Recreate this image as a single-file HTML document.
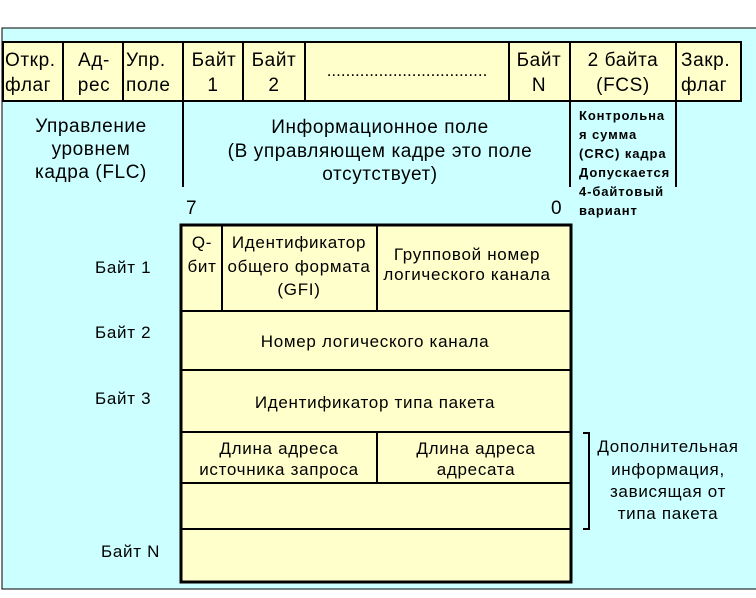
<!DOCTYPE html>
<html><head><meta charset="utf-8"><style>
html,body{margin:0;padding:0;background:#fff;}
svg text{font-family:"Liberation Sans",Arial,sans-serif;fill:#000;}
</style></head><body>
<svg width="756" height="593" viewBox="0 0 756 593" xmlns="http://www.w3.org/2000/svg">
<rect x="2" y="28" width="760" height="561" fill="#ccffff" stroke="#000" stroke-width="1"/>
<rect x="3" y="42" width="738" height="59" fill="#ffffcc" stroke="#000" stroke-width="2"/>
<g stroke="#000" stroke-width="2">
<line x1="63" y1="42" x2="63" y2="101"/><line x1="123" y1="42" x2="123" y2="101"/>
<line x1="183" y1="42" x2="183" y2="101"/><line x1="243" y1="42" x2="243" y2="101"/>
<line x1="305" y1="42" x2="305" y2="101"/><line x1="509" y1="42" x2="509" y2="101"/>
<line x1="570" y1="42" x2="570" y2="101"/><line x1="676" y1="42" x2="676" y2="101"/>
<line x1="183" y1="101" x2="183" y2="187"/><line x1="570" y1="101" x2="570" y2="187"/>
<line x1="676" y1="101" x2="676" y2="187"/>
</g>
<g font-size="19" letter-spacing="0.6">
<text x="5" y="66">Откр.</text><text x="5" y="91">флаг</text>
<text x="94" y="66" text-anchor="middle">Ад-</text><text x="94" y="91" text-anchor="middle">рес</text>
<text x="126" y="66">Упр.</text><text x="126" y="91">поле</text>
<text x="214" y="66" text-anchor="middle">Байт</text><text x="213" y="91" text-anchor="middle">1</text>
<text x="274" y="66" text-anchor="middle">Байт</text><text x="274" y="91" text-anchor="middle">2</text>
<text x="407" y="76" text-anchor="middle" font-size="17" letter-spacing="0">..................................</text>
<text x="539" y="66" text-anchor="middle">Байт</text><text x="539" y="91" text-anchor="middle">N</text>
<text x="623" y="66" text-anchor="middle">2 байта</text><text x="623" y="91" text-anchor="middle">(FCS)</text>
<text x="681" y="66">Закр.</text><text x="681" y="91">флаг</text>
<text x="91" y="132" text-anchor="middle">Управление</text>
<text x="91" y="155" text-anchor="middle">уровнем</text>
<text x="91" y="178" text-anchor="middle">кадра (FLC)</text>
<text x="380" y="133" text-anchor="middle">Информационное поле</text>
<text x="380" y="157" text-anchor="middle">(В управляющем кадре это поле</text>
<text x="380" y="180" text-anchor="middle">отсутствует)</text>
<text x="186" y="214">7</text><text x="551" y="214">0</text>
</g>
<g font-size="13" font-weight="bold" letter-spacing="0.9">
<text x="579" y="120">Контрольна</text>
<text x="579" y="139">я сумма</text>
<text x="579" y="158">(CRC) кадра</text>
<text x="579" y="177">Допускается</text>
<text x="579" y="196">4-байтовый</text>
<text x="579" y="215">вариант</text>
</g>
<rect x="181" y="225" width="390" height="357" fill="#ffffcc" stroke="#000" stroke-width="3"/>
<g stroke="#000" stroke-width="2">
<line x1="222" y1="225" x2="222" y2="311"/><line x1="377" y1="225" x2="377" y2="311"/>
<line x1="181" y1="311" x2="571" y2="311"/><line x1="181" y1="370" x2="571" y2="370"/>
<line x1="181" y1="432" x2="571" y2="432"/><line x1="181" y1="483" x2="571" y2="483"/>
<line x1="181" y1="529" x2="571" y2="529"/><line x1="377" y1="432" x2="377" y2="483"/>
</g>
<polyline points="583,433 589,433 589,529 583,529" fill="none" stroke="#000" stroke-width="2"/>
<g font-size="17" letter-spacing="0.7">
<text x="202" y="248" text-anchor="middle">Q-</text><text x="202" y="272" text-anchor="middle">бит</text>
<text x="299" y="248" text-anchor="middle">Идентификатор</text>
<text x="299" y="272" text-anchor="middle">общего формата</text>
<text x="299" y="295" text-anchor="middle">(GFI)</text>
<text x="467" y="260" text-anchor="middle">Групповой номер</text>
<text x="467" y="280" text-anchor="middle">логического канала</text>
<text x="375" y="347" text-anchor="middle">Номер логического канала</text>
<text x="375" y="408" text-anchor="middle">Идентификатор типа пакета</text>
<text x="279" y="454" text-anchor="middle">Длина адреса</text>
<text x="279" y="475" text-anchor="middle">источника запроса</text>
<text x="476" y="454" text-anchor="middle">Длина адреса</text>
<text x="476" y="475" text-anchor="middle">адресата</text>
<text x="95" y="273">Байт 1</text>
<text x="95" y="338">Байт 2</text>
<text x="95" y="404">Байт 3</text>
<text x="101" y="557">Байт N</text>
<text x="668" y="452" text-anchor="middle">Дополнительная</text>
<text x="668" y="475" text-anchor="middle">информация,</text>
<text x="668" y="497" text-anchor="middle">зависящая от</text>
<text x="668" y="519" text-anchor="middle">типа пакета</text>
</g>
</svg>
</body></html>
